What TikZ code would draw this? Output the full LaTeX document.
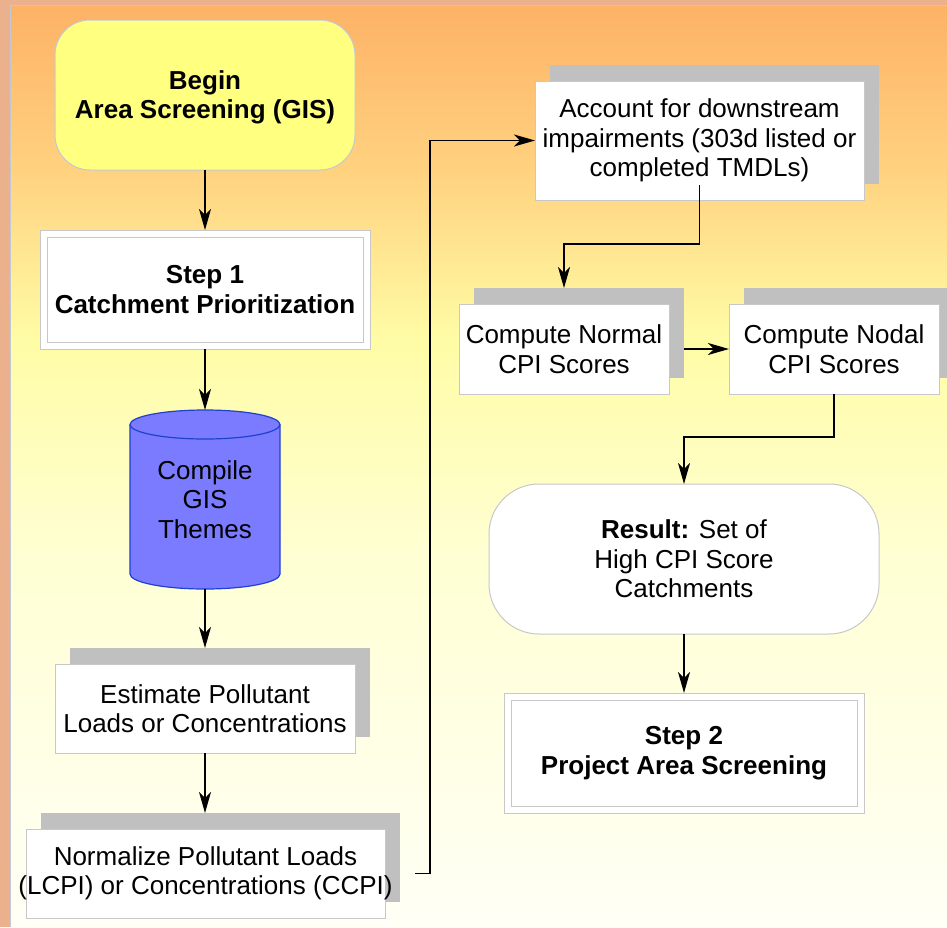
\documentclass[tikz,border=0pt]{standalone}
\usepackage{fontspec}
\setmainfont{Liberation Sans}
\usetikzlibrary{arrows.meta,shadows,calc}

% palette
\definecolor{salmon}{RGB}{235,177,140}
\definecolor{edgegray}{RGB}{196,200,212}
\definecolor{bgA}{RGB}{253,178,102}
\definecolor{bgB}{RGB}{255,210,128}
\definecolor{bgC}{RGB}{255,252,165}
\definecolor{bgD}{RGB}{255,255,212}
\definecolor{bgE}{RGB}{255,255,246}
\definecolor{shgray}{RGB}{192,192,192}
\definecolor{boxline}{RGB}{200,200,200}
\definecolor{beginfill}{RGB}{255,255,128}
\definecolor{cylfill}{RGB}{123,123,255}
\definecolor{cylline}{RGB}{32,64,208}

% page background: orange at the top, pale yellow, then almost white
\pgfdeclareverticalshading{pagebg}{100bp}{color(0bp)=(bgE); color(25bp)=(bgE); color(45bp)=(bgD); color(57bp)=(bgC); color(66bp)=(bgB); color(75bp)=(bgA); color(100bp)=(bgA)}

\begin{document}
\begin{tikzpicture}[x=1pt,y=-1pt,
  font=\fontsize{26}{29.5}\selectfont,
  base/.style={align=center, inner sep=0pt, outer sep=0pt, text=black},
  startbox/.style={base, draw=edgegray, line width=1pt, fill=beginfill,
    rounded corners=35pt, font=\fontsize{26}{29.5}\selectfont\bfseries},
  card/.style={base, draw=boxline, line width=1pt, fill=white,
    general shadow={fill=shgray, draw=none, shadow xshift=15pt, shadow yshift=16pt}},
  steppanel/.style={base, draw=boxline, line width=1pt, double=white,
    double distance=6pt, fill=white, font=\fontsize{26}{29.5}\selectfont\bfseries},
  resultbox/.style={base, draw=boxline, line width=1pt, fill=white, rounded corners=50pt},
  arrow/.style={draw=black, line width=1.4pt, -{Stealth[length=21pt,width=12pt,inset=6pt]}}]

\useasboundingbox (0,0) rectangle (947,927);

% background and frame edge
\fill[salmon] (0,0) rectangle (947,927);
\shade[shading=pagebg] (11,6) rectangle (947,927);
\draw[edgegray, line width=1.5pt] (10.5,927) -- (10.5,5.5) -- (947,5.5);

% data store drawn as a cylinder
\filldraw[fill=cylfill, draw=cylline, line width=1.2pt]
  (130,424.5) -- (130,574) arc[start angle=180, end angle=360, x radius=75pt, y radius=15pt]
  -- (280,424.5) arc[start angle=0, end angle=180, x radius=75pt, y radius=14.5pt] -- cycle;
\draw[cylline, line width=1.2pt]
  (130,424.5) arc[start angle=180, end angle=360, x radius=75pt, y radius=14.5pt];

% left column
\node[startbox, minimum width=300pt, minimum height=150pt] (begin) at (205,95)
  {\rule{0pt}{24pt}Begin\\Area Screening (GIS)};
\node[steppanel, minimum width=323pt, minimum height=112pt] (s1) at (205,289.5)
  {Step 1\\Catchment Prioritization};
\node[base, minimum width=150pt, minimum height=179pt] (cyl) at (205,499.5)
  {Compile\\GIS\\Themes};
\node[card, minimum width=300pt, minimum height=89pt] (est) at (205,708.5)
  {Estimate Pollutant\\Loads or Concentrations};
\node[card, minimum width=359pt, minimum height=89pt] (nrm) at (205.5,873.5)
  {\makebox[0pt]{Normalize Pollutant Loads}\\\makebox[0pt]{(LCPI) or Concentrations (CCPI)}};

% right column
\node[card, minimum width=329pt, minimum height=119pt] (acc) at (699.5,140.5)
  {Account for downstream\\impairments (303d listed or\\completed TMDLs)};
\node[card, minimum width=210pt, minimum height=90pt] (norm) at (564,349)
  {Compute Normal\\CPI Scores};
\node[card, minimum width=210pt, minimum height=90pt] (nodal) at (834,349)
  {Compute Nodal\\CPI Scores};
\node[resultbox, minimum width=390pt, minimum height=150pt] (res) at (684,559)
  {\textbf{Result:} Set of\\High CPI Score\\Catchments};
\node[steppanel, minimum width=353pt, minimum height=113pt] (s2) at (684,753)
  {Step 2\\Project Area Screening};

% connectors
\draw[arrow, shorten >=3.5pt] (begin.south) -- (s1.north);
\draw[arrow, shorten <=3.5pt] (s1.south) -- (cyl.north);
\draw[arrow] (cyl.south) -- ([yshift=16pt]est.north);
\draw[arrow] (est.south) -- ([yshift=16pt]est.south |- nrm.north);
\draw[arrow] ([xshift=30pt]nrm.east) -- ++(15,0) |- (acc.west);
\draw[arrow] ([yshift=15pt]acc.south) -- ++(0,59) -| ([yshift=16pt]norm.north);
\draw[arrow] ([xshift=15pt]norm.east) -- (nodal.west);
\draw[arrow] (nodal.south) -- ++(0,43) -| (res.north);
\draw[arrow, shorten >=3.5pt] (res.south) -- (s2.north);

\end{tikzpicture}
\end{document}
